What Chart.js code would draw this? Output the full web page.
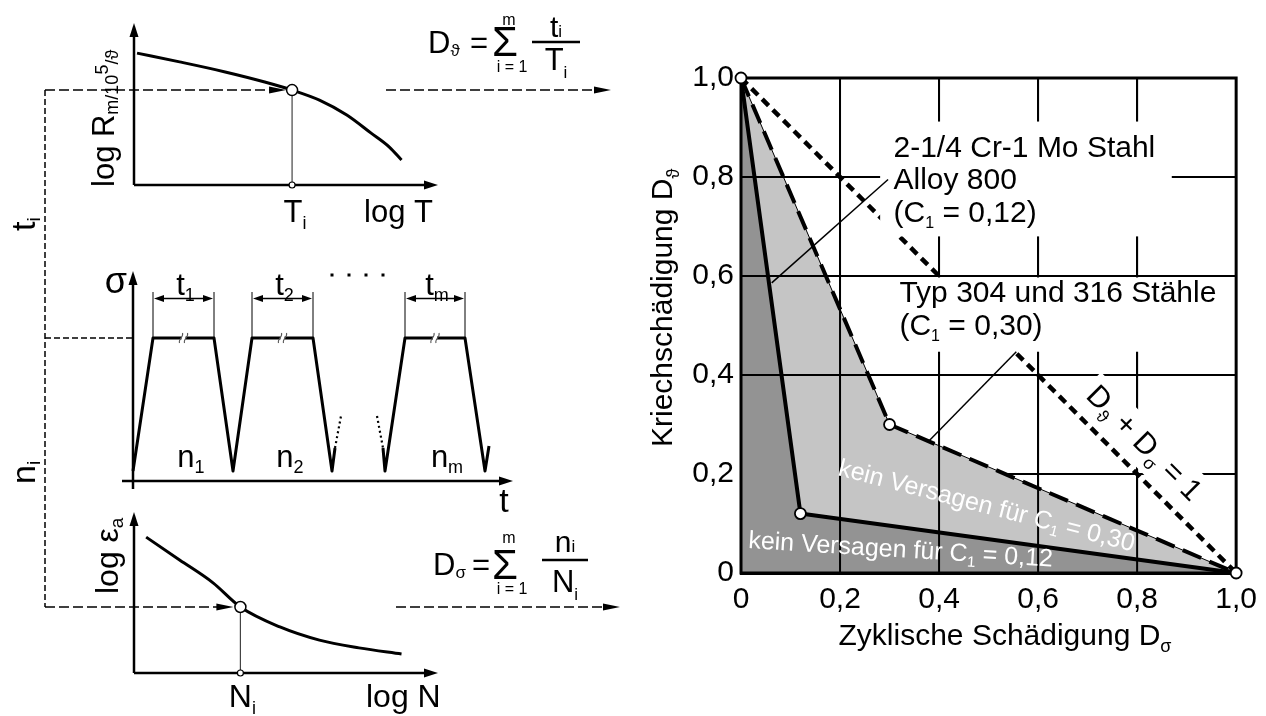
<!DOCTYPE html>
<html lang="de">
<head>
<meta charset="utf-8">
<title>Kriech-Ermüdungs-Schädigung</title>
<script src="https://cdn.jsdelivr.net/npm/chart.js@4.4.1/dist/chart.umd.min.js"></script>
<style>
  html, body { margin: 0; background: #fff; }
  #stage { position: relative; width: 1266px; height: 716px; overflow: hidden; }
  #stage canvas { position: absolute; left: 0; top: 0; }
</style>
</head>
<body>
<div id="stage">
  <canvas id="creepChart" width="1266" height="716"></canvas>
  <canvas id="loadChart" width="1266" height="716"></canvas>
  <canvas id="fatigueChart" width="1266" height="716"></canvas>
  <canvas id="damageChart" width="1266" height="716"></canvas>
</div>
<script>
// Zeitstandkurve log R ueber log T (Schema)
const creepLogT = [0.1, 1.5, 3.0, 4.3, 5.2, 6.1, 7.0, 7.8, 8.4, 8.8];
const creepLogR = [4.07, 3.80, 3.49, 3.18, 2.93, 2.62, 2.16, 1.60, 1.17, 0.77];
const creepPick = 4;

// Woehlerkurve log eps_a ueber log N (Schema)
const fatigueLogN = [0.4, 1.5, 2.6, 3.5, 4.8, 6.1, 7.4, 8.8];
const fatigueLogEps = [4.22, 3.51, 2.80, 2.05, 1.43, 1.02, 0.78, 0.59];
const fatiguePick = 3;

// Belastungsverlauf sigma(t) mit Haltezeiten
const cycleT = [0, 2.0, 8.1, 10.0, 11.9, 18.0, 19.9, 20.2];
const cycleS = [1, 14.3, 14.3, 1, 14.3, 14.3, 1, 3.3];
const gapOutT = [20.2, 20.8];
const gapOutS = [3.3, 6.5];
const gapInT = [24.4, 25.0];
const gapInS = [6.5, 3.3];
const lastT = [25.0, 25.2, 27.2, 33.2, 35.2, 35.6];
const lastS = [3.3, 1, 14.3, 14.3, 1, 3.5];
const holdStart = [2.0, 11.9, 27.2];
const holdEnd = [8.1, 18.0, 33.2];
const holdIndex = ['1', '2', 'm'];
const cycleLabelT = [5.8, 15.7, 31.4];
const dotsT = [19.9, 21.6, 23.3, 25.0];

// Schaedigungsdiagramm
const damageTicks = ['0', '0,2', '0,4', '0,6', '0,8', '1,0'];
const alloyDs = [0, 0.12, 1];      // C1 = 0,12
const alloyDt = [1, 0.12, 0];
const steelDs = [0, 0.30, 1];      // C1 = 0,30
const steelDt = [1, 0.30, 0];
const linearDs = [0, 1];           // D_theta + D_sigma = 1
const linearDt = [1, 0];
const kneeDs = [0, 0.12, 0.30, 1];
const kneeDt = [1, 0.12, 0.30, 0];
const leaderAlloyDs = [0.062, 0.297];
const leaderAlloyDt = [0.586, 0.795];
const leaderSteelDs = [0.378, 0.556];
const leaderSteelDt = [0.265, 0.447];

const W = 1266, H = 716;
const FONT = "'Liberation Sans', Arial, 'DejaVu Sans', sans-serif";
const GUIDE_X = 45;

function pts(xs, ys) {
  return xs.map((x, i) => ({ x: x, y: ys[i] }));
}

function setFont(ctx, size) {
  ctx.font = size + 'px ' + FONT;
}

function richWidth(ctx, parts) {
  let w = 0;
  parts.forEach(p => { setFont(ctx, p.s); w += ctx.measureText(p.t).width; });
  return w;
}

// Text mit Indizes zeichnen
function drawRich(ctx, x, y, parts, align, color) {
  const w = richWidth(ctx, parts);
  let cx = align === 'center' ? x - w / 2 : align === 'right' ? x - w : x;
  ctx.fillStyle = color || '#000';
  ctx.textAlign = 'left';
  ctx.textBaseline = 'alphabetic';
  parts.forEach(p => {
    setFont(ctx, p.s);
    ctx.fillText(p.t, cx, y + (p.dy || 0));
    cx += ctx.measureText(p.t).width;
  });
  return w;
}

function seg(ctx, x1, y1, x2, y2) {
  ctx.beginPath();
  ctx.moveTo(x1, y1);
  ctx.lineTo(x2, y2);
  ctx.stroke();
}

function arrowHead(ctx, x, y, dir, len, half) {
  ctx.save();
  ctx.fillStyle = '#000';
  ctx.translate(x, y);
  ctx.rotate(dir);
  ctx.beginPath();
  ctx.moveTo(0, 0);
  ctx.lineTo(-len, -half);
  ctx.lineTo(-len, half);
  ctx.closePath();
  ctx.fill();
  ctx.restore();
}

function ring(ctx, x, y, r, lw) {
  ctx.save();
  ctx.setLineDash([]);
  ctx.beginPath();
  ctx.arc(x, y, r, 0, Math.PI * 2);
  ctx.fillStyle = '#fff';
  ctx.fill();
  ctx.lineWidth = lw || 1.5;
  ctx.strokeStyle = '#000';
  ctx.stroke();
  ctx.restore();
}

function guideArrow(ctx, x1, x2, y) {
  ctx.save();
  ctx.strokeStyle = '#000';
  ctx.lineWidth = 1.6;
  ctx.setLineDash([10, 4]);
  seg(ctx, x1, y, x2 - 15, y);
  ctx.setLineDash([]);
  arrowHead(ctx, x2, y, 0, 17, 3.5);
  ctx.restore();
}

function sketchAxes(ctx, a, yExtra, xExtra) {
  ctx.save();
  ctx.strokeStyle = '#000';
  ctx.lineWidth = 2.5;
  ctx.setLineDash([]);
  seg(ctx, a.left, a.bottom + yExtra, a.left, a.top + 12);
  arrowHead(ctx, a.left, a.top, -Math.PI / 2, 14, 4.5);
  seg(ctx, a.left - xExtra, a.bottom, a.right - 12, a.bottom);
  arrowHead(ctx, a.right, a.bottom, 0, 14, 4.5);
  ctx.restore();
}

function dropLine(ctx, x, y1, y2) {
  ctx.save();
  ctx.strokeStyle = '#444';
  ctx.lineWidth = 1.2;
  seg(ctx, x, y1, x, y2);
  ctx.restore();
}

// Summenformel D = sum n/N
function drawSum(ctx, f) {
  drawRich(ctx, f.dX, f.base, [{ t: 'D', s: 31 }, { t: f.sub, s: 17, dy: 3 }]);
  drawRich(ctx, f.eqX, f.base, [{ t: '=', s: 31 }]);
  drawRich(ctx, f.sigX, f.sigBase, [{ t: 'Σ', s: 42 }], 'center');
  drawRich(ctx, f.sigX + 4, f.mBase, [{ t: 'm', s: 16 }], 'center');
  drawRich(ctx, f.sigX + 7, f.iBase, [{ t: 'i = 1', s: 16 }], 'center');
  ctx.save();
  ctx.strokeStyle = '#000';
  ctx.lineWidth = 2.5;
  seg(ctx, f.fracL, f.fracY, f.fracR, f.fracY);
  ctx.restore();
  const mid = (f.fracL + f.fracR) / 2;
  drawRich(ctx, mid, f.numBase, [{ t: f.num, s: 30 }, { t: 'i', s: 17 }], 'center');
  drawRich(ctx, mid, f.denBase, [{ t: f.den, s: 31 }, { t: 'i', s: 17, dy: 8 }], 'center');
}

function sketchOptions(area, xMax, yMax) {
  return {
    responsive: false,
    animation: false,
    devicePixelRatio: 1,
    events: [],
    layout: { padding: { left: area[0], top: area[1], right: W - area[2], bottom: H - area[3] } },
    plugins: { legend: { display: false }, tooltip: { enabled: false } },
    scales: {
      x: { type: 'linear', display: false, min: 0, max: xMax },
      y: { type: 'linear', display: false, min: 0, max: yMax }
    }
  };
}

function curveSet(xs, ys, extra) {
  return Object.assign({
    data: pts(xs, ys),
    borderColor: '#000',
    borderWidth: 3,
    pointRadius: 0,
    fill: false,
    clip: false
  }, extra || {});
}

// Zeitstandschaubild oben links
const creepChart = new Chart(document.getElementById('creepChart'), {
  type: 'line',
  data: { datasets: [curveSet(creepLogT, creepLogR, { cubicInterpolationMode: 'monotone' })] },
  options: sketchOptions([134, 23, 438, 185], 10, 5),
  plugins: [{
    id: 'creepSketch',
    afterDraw(chart) {
      const ctx = chart.ctx, a = chart.chartArea;
      const px = chart.scales.x.getPixelForValue(creepLogT[creepPick]);
      const py = chart.scales.y.getPixelForValue(creepLogR[creepPick]);
      sketchAxes(ctx, a, 0, 0);
      dropLine(ctx, px, py, a.bottom);
      guideArrow(ctx, GUIDE_X, px - 6, py);
      guideArrow(ctx, 386, 611, py);
      ring(ctx, px, py, 5.5);
      ring(ctx, px, a.bottom, 3, 1.2);
      drawRich(ctx, px + 3, a.bottom + 37, [{ t: 'T', s: 31 }, { t: 'i', s: 18, dy: 7 }], 'center');
      drawRich(ctx, 364, a.bottom + 37, [{ t: 'log T', s: 31 }]);
      ctx.save();
      ctx.translate(114, a.bottom + 2);
      ctx.rotate(-Math.PI / 2);
      drawRich(ctx, 0, 0, [{ t: 'log R', s: 31 }, { t: 'm/10', s: 18, dy: 4 }, { t: '5', s: 18, dy: -6 }, { t: '/ϑ', s: 18, dy: 4 }]);
      ctx.restore();
      drawSum(ctx, { dX: 428, base: 53, sub: 'ϑ', eqX: 470, sigX: 505, sigBase: 56, mBase: 25, iBase: 72,
        fracL: 532, fracR: 580, fracY: 42, num: 't', numBase: 37, den: 'T', denBase: 70 });
    }
  }]
});

// Belastungsverlauf in der Mitte
const loadChart = new Chart(document.getElementById('loadChart'), {
  type: 'line',
  data: {
    datasets: [
      curveSet(cycleT, cycleS, { borderJoinStyle: 'round' }),
      curveSet(gapOutT, gapOutS, { borderWidth: 2.2, borderDash: [2, 3] }),
      curveSet(gapInT, gapInS, { borderWidth: 2.2, borderDash: [2, 3] }),
      curveSet(lastT, lastS, { borderJoinStyle: 'round' })
    ]
  },
  options: sketchOptions([133, 271, 513, 481], 38, 21),
  plugins: [{
    id: 'loadSketch',
    afterDraw(chart) {
      const ctx = chart.ctx, a = chart.chartArea;
      const X = v => chart.scales.x.getPixelForValue(v);
      const Y = v => chart.scales.y.getPixelForValue(v);
      const plateau = Y(cycleS[1]);
      sketchAxes(ctx, a, 8, 11);
      drawRich(ctx, a.left - 6, a.top + 22, [{ t: 'σ', s: 36 }], 'right');
      drawRich(ctx, a.right - 9, a.bottom + 31, [{ t: 't', s: 34 }], 'center');

      ctx.save();
      ctx.strokeStyle = '#000';
      ctx.lineWidth = 1.5;
      ctx.setLineDash([6, 3]);
      seg(ctx, GUIDE_X, plateau, a.left, plateau);
      ctx.restore();

      // Haltezeiten t_k
      holdStart.forEach((t0, k) => {
        const xa = X(t0), xb = X(holdEnd[k]), ya = Y(18.25);
        ctx.save();
        ctx.strokeStyle = '#000';
        ctx.lineWidth = 1;
        seg(ctx, xa, plateau, xa, Y(18.9));
        seg(ctx, xb, plateau, xb, Y(18.9));
        ctx.lineWidth = 1.6;
        seg(ctx, xa + 8, ya, xb - 8, ya);
        arrowHead(ctx, xa + 1, ya, Math.PI, 10, 3.5);
        arrowHead(ctx, xb - 1, ya, 0, 10, 3.5);
        // Bruchstriche auf dem Haltebereich
        const xm = (xa + xb) / 2;
        ctx.fillStyle = '#fff';
        ctx.fillRect(xm - 2, plateau - 3, 4, 6);
        ctx.strokeStyle = '#555';
        ctx.lineWidth = 1.1;
        [-2.5, 2.5].forEach(dx => {
          ctx.beginPath();
          ctx.moveTo(xm + dx - 1.5, plateau + 5);
          ctx.bezierCurveTo(xm + dx - 3, plateau + 1, xm + dx + 3, plateau - 1, xm + dx + 1.5, plateau - 5);
          ctx.stroke();
        });
        ctx.restore();
        drawRich(ctx, (xa + xb) / 2 + 2, Y(18.65), [{ t: 't', s: 31 }, { t: holdIndex[k], s: 18, dy: 6 }], 'center');
        drawRich(ctx, X(cycleLabelT[k]), Y(1.4), [{ t: 'n', s: 31 }, { t: holdIndex[k], s: 18, dy: 6 }], 'center');
      });

      ctx.save();
      ctx.fillStyle = '#000';
      dotsT.forEach(t => ctx.fillRect(X(t) - 1.5, Y(20.6) - 1.5, 3, 3));
      ctx.restore();

      ctx.save();
      ctx.translate(35, 231);
      ctx.rotate(-Math.PI / 2);
      drawRich(ctx, 0, 0, [{ t: 't', s: 34 }, { t: 'i', s: 19, dy: 5 }]);
      ctx.restore();
      ctx.save();
      ctx.translate(35, 484);
      ctx.rotate(-Math.PI / 2);
      drawRich(ctx, 0, 0, [{ t: 'n', s: 34 }, { t: 'i', s: 19, dy: 5 }]);
      ctx.restore();
    }
  }]
});

// Woehlerschaubild unten links
const fatigueChart = new Chart(document.getElementById('fatigueChart'), {
  type: 'line',
  data: { datasets: [curveSet(fatigueLogN, fatigueLogEps, { cubicInterpolationMode: 'monotone' })] },
  options: sketchOptions([134, 512, 438, 673], 10, 5),
  plugins: [{
    id: 'fatigueSketch',
    afterDraw(chart) {
      const ctx = chart.ctx, a = chart.chartArea;
      const px = chart.scales.x.getPixelForValue(fatigueLogN[fatiguePick]);
      const py = chart.scales.y.getPixelForValue(fatigueLogEps[fatiguePick]);
      const topY = creepChart.scales.y.getPixelForValue(creepLogR[creepPick]);
      sketchAxes(ctx, a, 0, 0);
      dropLine(ctx, px, py, a.bottom);

      ctx.save();
      ctx.strokeStyle = '#000';
      ctx.lineWidth = 1.5;
      ctx.setLineDash([6, 3]);
      seg(ctx, GUIDE_X, topY, GUIDE_X, py);
      ctx.restore();

      guideArrow(ctx, GUIDE_X, px - 7, py);
      guideArrow(ctx, 396, 620, py);
      ring(ctx, px, py, 5.5);
      ring(ctx, px, a.bottom, 3, 1.2);
      drawRich(ctx, px + 2, a.bottom + 34, [{ t: 'N', s: 32 }, { t: 'i', s: 18, dy: 7 }], 'center');
      drawRich(ctx, 366, a.bottom + 34, [{ t: 'log N', s: 32 }]);
      ctx.save();
      ctx.translate(118, 594);
      ctx.rotate(-Math.PI / 2);
      drawRich(ctx, 0, 0, [{ t: 'log ε', s: 32 }, { t: 'a', s: 19, dy: 5 }]);
      ctx.restore();
      drawSum(ctx, { dX: 433, base: 575, sub: 'σ', eqX: 472, sigX: 505, sigBase: 579, mBase: 543, iBase: 594,
        fracL: 542, fracR: 588, fracY: 560, num: 'n', numBase: 552, den: 'N', denBase: 592 });
    }
  }]
});

// Beschriftungen, Gitter ueber den Flaechen, Rahmen
let overlayDone = false;
function drawDamageOverlay(chart) {
  const ctx = chart.ctx, a = chart.chartArea;
  const X = v => chart.scales.x.getPixelForValue(v);
  const Y = v => chart.scales.y.getPixelForValue(v);
  ctx.save();
  ctx.strokeStyle = '#000';
  ctx.lineWidth = 2;
  ctx.setLineDash([]);
  chart.scales.x.ticks.forEach(t => {
    if (t.value > 0.01 && t.value < 0.99) seg(ctx, X(t.value), a.top, X(t.value), a.bottom);
  });
  chart.scales.y.ticks.forEach(t => {
    if (t.value > 0.3 && t.value < 0.99) seg(ctx, a.left, Y(t.value), a.right, Y(t.value));
  });

  ctx.fillStyle = '#fff';
  ctx.fillRect(X(0.281), Y(0.912), X(0.87) - X(0.281), Y(0.68) - Y(0.912));
  ctx.fillRect(X(0.315), Y(0.597), X(0.985) - X(0.315), Y(0.447) - Y(0.597));

  drawRich(ctx, X(0.308), Y(0.840), [{ t: '2-1/4 Cr-1 Mo Stahl', s: 30 }]);
  drawRich(ctx, X(0.308), Y(0.776), [{ t: 'Alloy 800', s: 30 }]);
  drawRich(ctx, X(0.308), Y(0.709), [{ t: '(C', s: 30 }, { t: '1', s: 16, dy: 6 }, { t: ' = 0,12)', s: 30 }]);
  drawRich(ctx, X(0.32), Y(0.547), [{ t: 'Typ 304 und 316 Stähle', s: 30 }]);
  drawRich(ctx, X(0.32), Y(0.481), [{ t: '(C', s: 30 }, { t: '1', s: 16, dy: 6 }, { t: ' = 0,30)', s: 30 }]);

  const sumParts = [{ t: 'D', s: 30 }, { t: 'ϑ', s: 18, dy: 7 }, { t: ' + D', s: 30 }, { t: 'σ', s: 18, dy: 7 }, { t: ' = 1', s: 30 }];
  ctx.save();
  ctx.translate(X(0.8165), Y(0.2646));
  ctx.rotate(Math.PI / 4);
  const w = richWidth(ctx, sumParts);
  ctx.fillStyle = '#fff';
  ctx.fillRect(-w / 2 - 6, -18, w + 12, 42);
  drawRich(ctx, 0, 11, sumParts, 'center');
  ctx.restore();

  ctx.save();
  ctx.translate(X(0.194), Y(0.198));
  ctx.rotate(14.5 * Math.PI / 180);
  drawRich(ctx, 0, 0, [{ t: 'kein Versagen für C', s: 25 }, { t: '1', s: 15, dy: 5 }, { t: ' = 0,30', s: 25 }], 'left', '#fff');
  ctx.restore();
  ctx.save();
  ctx.translate(X(0.014), Y(0.0505));
  ctx.rotate(3.5 * Math.PI / 180);
  drawRich(ctx, 0, 0, [{ t: 'kein Versagen für C', s: 25 }, { t: '1', s: 15, dy: 5 }, { t: ' = 0,12', s: 25 }], 'left', '#fff');
  ctx.restore();

  ctx.lineWidth = 3;
  ctx.strokeStyle = '#000';
  ctx.strokeRect(a.left, a.top, a.right - a.left, a.bottom - a.top);

  drawRich(ctx, 1005, 645, [{ t: 'Zyklische Schädigung D', s: 30 }, { t: 'σ', s: 18, dy: 7 }], 'center');
  ctx.save();
  ctx.translate(672, 447);
  ctx.rotate(-Math.PI / 2);
  drawRich(ctx, 0, 0, [{ t: 'Kriechschädigung D', s: 30 }, { t: 'ϑ', s: 18, dy: 7 }]);
  ctx.restore();
  ctx.restore();
}

const tickFont = { family: FONT, size: 30 };

const damageChart = new Chart(document.getElementById('damageChart'), {
  type: 'line',
  data: {
    datasets: [
      { label: 'Bereich C1 = 0,30', data: pts(steelDs, steelDt), fill: 'origin', backgroundColor: '#c5c5c5',
        borderColor: '#000', borderWidth: 1, pointRadius: 0, clip: false, order: 6 },
      { label: 'C1 = 0,12', data: pts(alloyDs, alloyDt), fill: 'origin', backgroundColor: '#939393',
        borderColor: '#000', borderWidth: 4, borderJoinStyle: 'round', pointRadius: 0, clip: false, order: 5 },
      { label: 'C1 = 0,30', data: pts(steelDs, steelDt), fill: false, borderColor: '#000', borderWidth: 4,
        borderDash: [20, 9], pointRadius: 0, clip: false, order: 4 },
      { label: 'lineare Summe', data: pts(linearDs, linearDt), fill: false, borderColor: '#000', borderWidth: 4.5,
        borderDash: [9, 6], pointRadius: 0, clip: false, order: 3 },
      { label: 'Hinweis Alloy', data: pts(leaderAlloyDs, leaderAlloyDt), fill: false, borderColor: '#000',
        borderWidth: 1.5, pointRadius: 0, clip: false, order: 2, overlayBefore: true },
      { label: 'Hinweis Typ 304', data: pts(leaderSteelDs, leaderSteelDt), fill: false, borderColor: '#000',
        borderWidth: 1.5, pointRadius: 0, clip: false, order: 1 },
      { label: 'Knickpunkte', data: pts(kneeDs, kneeDt), showLine: false, pointRadius: 5.5,
        pointBackgroundColor: '#fff', pointBorderColor: '#000', pointBorderWidth: 1.8, clip: false, order: 0 }
    ]
  },
  options: {
    responsive: false,
    animation: false,
    devicePixelRatio: 1,
    events: [],
    layout: { padding: { left: 0, top: 78, right: 29, bottom: 0 } },
    plugins: { legend: { display: false }, tooltip: { enabled: false } },
    scales: {
      x: {
        type: 'linear', min: 0, max: 1,
        afterFit: scale => { scale.height = 143; },
        grid: { color: '#000', lineWidth: 2, drawTicks: false },
        border: { color: '#000', width: 3 },
        ticks: { stepSize: 0.2, padding: 9, color: '#000', font: tickFont, maxRotation: 0, autoSkip: false,
          callback: (v, i) => damageTicks[i] }
      },
      y: {
        type: 'linear', min: 0, max: 1,
        afterFit: scale => { scale.width = 741; },
        grid: { color: '#000', lineWidth: 2, drawTicks: false },
        border: { color: '#000', width: 3 },
        ticks: { stepSize: 0.2, padding: 7, color: '#000', font: tickFont, autoSkip: false,
          callback: (v, i) => damageTicks[i] }
      }
    }
  },
  plugins: [{
    id: 'damageOverlay',
    beforeDraw() { overlayDone = false; },
    beforeDatasetDraw(chart, args) {
      const ds = chart.data.datasets[args.index];
      if (ds.overlayBefore && !overlayDone) {
        overlayDone = true;
        drawDamageOverlay(chart);
      }
    }
  }]
});
</script>
</body>
</html>
